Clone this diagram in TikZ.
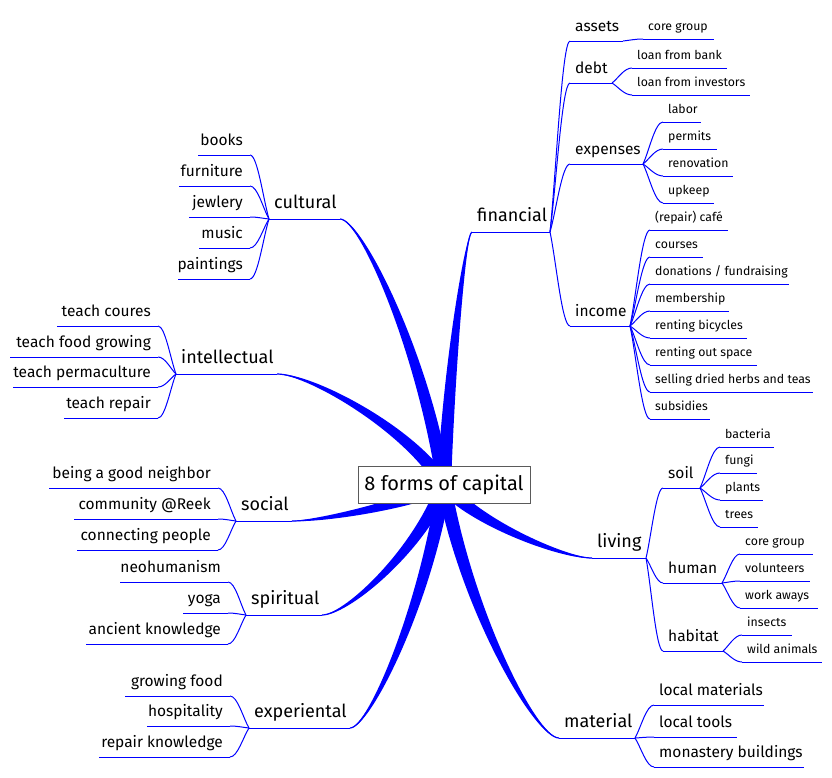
\documentclass[tikz,border=0pt]{standalone}
\usepackage{fontspec}
\setmainfont{Fira Sans}
\usetikzlibrary{calc}
\definecolor{mmblue}{RGB}{0,0,255}
\definecolor{boxgray}{RGB}{90,90,90}
\tikzset{
  lone/.style={font=\fontsize{18}{20}\selectfont, inner sep=0pt},
  ltwo/.style={font=\fontsize{15.5}{18}\selectfont, inner sep=0pt},
  lthree/.style={font=\fontsize{12.3}{15}\selectfont, inner sep=0pt},
  uline/.style={draw=mmblue, line width=1pt},
  conn/.style={draw=mmblue, line width=1pt},
}
% label with text left aligned
\newcommand\Rn[7]{%
  \coordinate (#1-s) at (#2,#4);
  \coordinate (#1-e) at (#3,#4);
  \node[#5, anchor=base west] (#1) at ($(#1-s)+(5,-#6)$) {#7};
  \draw[uline] (#1-s) -- (#1-e);
}
% label with text right aligned
\newcommand\Ln[7]{%
  \coordinate (#1-s) at (#2,#4);
  \coordinate (#1-e) at (#3,#4);
  \node[#5, anchor=base east] (#1) at ($(#1-e)+(-7,-#6)$) {#7};
  \draw[uline] (#1-s) -- (#1-e);
}
\newcommand\Cn[2]{%
  \draw[conn] let \p1=(#1), \p2=(#2) in (\p1) .. controls ($(\p1)!0.3!(\p2)$) and (\x1*0.4+\x2*0.6,\y2) .. (\p2);
}
\newcommand\Ed[3]{%
  \coordinate (C1) at (#2);
  \coordinate (C2) at (#3);
  \fill[mmblue] ($(c0)!7pt!90:(C1)$) .. controls ($(C1)!6pt!-90:(c0)$) and ($(C2)!2pt!90:(#1)$) .. (#1)
     .. controls ($(C2)!2pt!-90:(#1)$) and ($(C1)!6pt!90:(c0)$) .. ($(c0)!7pt!-90:(C1)$) -- cycle;
  \draw[mmblue, line width=1.2pt] (c0) .. controls (C1) and (C2) .. (#1);
}
\begin{document}
\begin{tikzpicture}[x=1pt,y=-1pt]
\useasboundingbox (0,0) rectangle (832,777);
\coordinate (c0) at (444,485);

% ---------- financial ----------
\Rn{fin}{472}{550}{232}{lone}{11}{financial}
\Rn{ass}{570}{623}{41}{ltwo}{10}{assets}
\Rn{cga}{643}{714}{39}{lthree}{8.5}{core group}
\Rn{debt}{570}{612}{83}{ltwo}{10}{debt}
\Rn{lfb}{632}{727}{68}{lthree}{8.5}{loan from bank}
\Rn{lfi}{632}{750}{95}{lthree}{8.5}{loan from investors}
\Rn{exp}{570}{643}{164}{ltwo}{10}{expenses}
\Rn{lab}{663}{701}{122}{lthree}{8.5}{labor}
\Rn{per}{663}{717}{149}{lthree}{8.5}{permits}
\Rn{ren}{663}{733}{176}{lthree}{8.5}{renovation}
\Rn{upk}{663}{714}{203}{lthree}{8.5}{upkeep}
\Rn{inc}{570}{630}{326}{ltwo}{10}{income}
\Rn{caf}{650}{728}{230}{lthree}{8.5}{(repair) café}
\Rn{cou}{650}{703}{257}{lthree}{8.5}{courses}
\Rn{don}{650}{789}{284}{lthree}{8.5}{donations / fundraising}
\Rn{mem}{650}{729}{311}{lthree}{8.5}{membership}
\Rn{rbi}{650}{747}{338}{lthree}{8.5}{renting bicycles}
\Rn{ros}{650}{757}{365}{lthree}{8.5}{renting out space}
\Rn{sel}{650}{813}{392}{lthree}{8.5}{selling dried herbs and teas}
\Rn{sub}{650}{710}{419}{lthree}{8.5}{subsidies}
\Cn{fin-e}{ass-s}\Cn{fin-e}{debt-s}\Cn{fin-e}{exp-s}\Cn{fin-e}{inc-s}
\Cn{ass-e}{cga-s}
\Cn{debt-e}{lfb-s}\Cn{debt-e}{lfi-s}
\Cn{exp-e}{lab-s}\Cn{exp-e}{per-s}\Cn{exp-e}{ren-s}\Cn{exp-e}{upk-s}
\Cn{inc-e}{caf-s}\Cn{inc-e}{cou-s}\Cn{inc-e}{don-s}\Cn{inc-e}{mem-s}
\Cn{inc-e}{rbi-s}\Cn{inc-e}{ros-s}\Cn{inc-e}{sel-s}\Cn{inc-e}{sub-s}

% ---------- living ----------
\Rn{liv}{592}{646}{558}{lone}{11}{living}
\Rn{soil}{663}{700}{488}{ltwo}{10}{soil}
\Rn{bac}{720}{774}{447}{lthree}{8.5}{bacteria}
\Rn{fun}{720}{757}{473}{lthree}{8.5}{fungi}
\Rn{pla}{720}{763}{500}{lthree}{8.5}{plants}
\Rn{tre}{720}{758}{527}{lthree}{8.5}{trees}
\Rn{hum}{663}{722}{583}{ltwo}{10}{human}
\Rn{cgb}{740}{813}{554}{lthree}{8.5}{core group}
\Rn{vol}{740}{810}{581}{lthree}{8.5}{volunteers}
\Rn{wor}{740}{818}{608}{lthree}{8.5}{work aways}
\Rn{hab}{663}{723}{651}{ltwo}{10}{habitat}
\Rn{ins}{742}{792}{635}{lthree}{8.5}{insects}
\Rn{wil}{742}{822}{662}{lthree}{8.5}{wild animals}
\Cn{liv-e}{soil-s}\Cn{liv-e}{hum-s}\Cn{liv-e}{hab-s}
\Cn{soil-e}{bac-s}\Cn{soil-e}{fun-s}\Cn{soil-e}{pla-s}\Cn{soil-e}{tre-s}
\Cn{hum-e}{cgb-s}\Cn{hum-e}{vol-s}\Cn{hum-e}{wor-s}
\Cn{hab-e}{ins-s}\Cn{hab-e}{wil-s}

% ---------- material ----------
\Rn{mat}{559}{635}{738}{lone}{11}{material}
\Rn{lma}{654}{764}{705}{ltwo}{10}{local materials}
\Rn{lto}{654}{737}{737}{ltwo}{10}{local tools}
\Rn{mon}{654}{804}{767}{ltwo}{10}{monastery buildings}
\Cn{mat-e}{lma-s}\Cn{mat-e}{lto-s}\Cn{mat-e}{mon-s}

% ---------- cultural ----------
\Rn{cul}{269}{340}{219}{lone}{11}{cultural}
\Ln{boo}{198}{250}{155}{ltwo}{10}{books}
\Ln{fur}{179}{250}{186}{ltwo}{10}{furniture}
\Ln{jew}{189}{250}{217}{ltwo}{10}{jewlery}
\Ln{mus}{199}{250}{248}{ltwo}{10}{music}
\Ln{pai}{178}{250}{279}{ltwo}{10}{paintings}
\Cn{cul-s}{boo-e}\Cn{cul-s}{fur-e}\Cn{cul-s}{jew-e}\Cn{cul-s}{mus-e}\Cn{cul-s}{pai-e}

% ---------- intellectual ----------
\Rn{int}{176}{277}{374}{lone}{11}{intellectual}
\Ln{tco}{57}{158}{326}{ltwo}{10}{teach coures}
\Ln{tfg}{10}{158}{357}{ltwo}{10}{teach food growing}
\Ln{tpe}{13}{158}{387}{ltwo}{10}{teach permaculture}
\Ln{tre2}{64}{158}{418}{ltwo}{10}{teach repair}
\Cn{int-s}{tco-e}\Cn{int-s}{tfg-e}\Cn{int-s}{tpe-e}\Cn{int-s}{tre2-e}

% ---------- social ----------
\Rn{soc}{236}{292}{521}{lone}{11}{social}
\Ln{bgn}{49}{218}{488}{ltwo}{10}{being a good neighbor}
\Ln{com}{74}{218}{519}{ltwo}{10}{community @Reek}
\Ln{cpe}{77}{218}{550}{ltwo}{10}{connecting people}
\Cn{soc-s}{bgn-e}\Cn{soc-s}{com-e}\Cn{soc-s}{cpe-e}

% ---------- spiritual ----------
\Rn{spi}{246}{322}{615}{lone}{11}{spiritual}
\Ln{neo}{120}{228}{582}{ltwo}{10}{neohumanism}
\Ln{yog}{183}{228}{613}{ltwo}{10}{yoga}
\Ln{anc}{86}{228}{644}{ltwo}{10}{ancient knowledge}
\Cn{spi-s}{neo-e}\Cn{spi-s}{yog-e}\Cn{spi-s}{anc-e}

% ---------- experiental ----------
\Rn{exr}{249}{350}{728}{lone}{11}{experiental}
\Ln{gfo}{125}{230}{696}{ltwo}{10}{growing food}
\Ln{hos}{147}{230}{726}{ltwo}{10}{hospitality}
\Ln{rkn}{99}{230}{757}{ltwo}{10}{repair knowledge}
\Cn{exr-s}{gfo-e}\Cn{exr-s}{hos-e}\Cn{exr-s}{rkn-e}

% ---------- thick edges from centre ----------
\Ed{fin-s}{449.6,358.5}{466.4,232}
\Ed{liv-s}{473.6,521.5}{562.4,558}
\Ed{mat-s}{467,611.5}{536,738}
\Ed{cul-e}{423.2,352}{360.8,219}
\Ed{int-e}{410.6,429.5}{310.4,374}
\Ed{soc-e}{413.6,503}{322.4,521}
\Ed{spi-e}{419.6,550}{346.4,615}
\Ed{exr-e}{425.2,606.5}{368.8,728}

% ---------- centre ----------
\node[draw=boxgray, line width=1pt, fill=white, minimum width=172, minimum height=37,
      inner sep=0pt, font=\fontsize{20}{24}\selectfont] (c) at (444,484.5) {8 forms of capital};
\end{tikzpicture}
\end{document}
